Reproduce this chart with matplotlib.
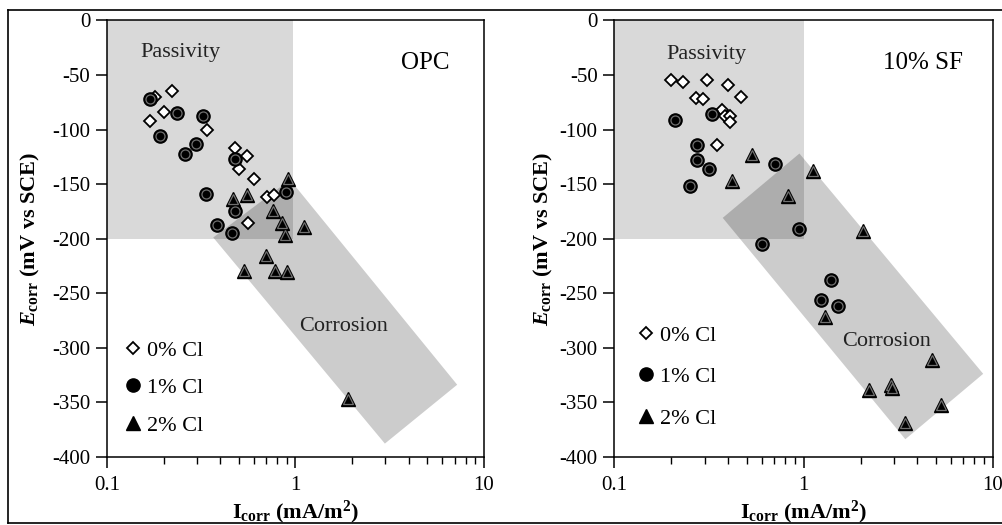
import numpy as np
import matplotlib.pyplot as plt
from matplotlib.patches import Polygon, Rectangle
from matplotlib.lines import Line2D
from matplotlib.ticker import FixedLocator, NullFormatter

plt.rcParams['font.family'] = ['Liberation Serif', 'DejaVu Serif']
plt.rcParams['mathtext.fontset'] = 'custom'
plt.rcParams['mathtext.rm'] = 'Liberation Serif'
plt.rcParams['mathtext.it'] = 'Liberation Serif:italic:bold'
plt.rcParams['mathtext.bf'] = 'Liberation Serif:bold'

# OPC panel: Icorr (mA/m2) and Ecorr (mV vs SCE)
opc_0_i = [0.18, 0.22, 0.20, 0.17, 0.34, 0.48, 0.55, 0.50, 0.60, 0.71, 0.77, 0.56]
opc_0_e = [-70, -65, -84, -92, -100, -117, -124, -136, -145, -162, -160, -186]
opc_1_i = [0.17, 0.235, 0.325, 0.19, 0.295, 0.26, 0.475, 0.335, 0.89, 0.475, 0.385, 0.46]
opc_1_e = [-72, -85, -88, -106, -113, -122, -127, -159, -157, -175, -188, -195]
opc_2_i = [0.91, 0.465, 0.555, 0.76, 0.85, 0.88, 1.11, 0.70, 0.53, 0.78, 0.90, 1.91]
opc_2_e = [-145, -164, -160, -175, -186, -197, -189, -216, -230, -230, -231, -347]

# 10% SF panel
sf_0_i = [0.20, 0.23, 0.31, 0.40, 0.465, 0.27, 0.295, 0.37, 0.385, 0.41, 0.41, 0.35]
sf_0_e = [-55, -56, -55, -59, -70, -71, -72, -82, -88, -88, -93, -114]
sf_1_i = [0.21, 0.33, 0.275, 0.275, 0.315, 0.25, 0.71, 0.95, 0.60, 1.40, 1.23, 1.52]
sf_1_e = [-91, -86, -114, -128, -136, -152, -132, -191, -205, -238, -256, -262]
sf_2_i = [0.535, 0.42, 0.83, 1.12, 2.07, 1.30, 4.8, 2.22, 2.9, 2.94, 5.33, 3.45]
sf_2_e = [-123, -147, -161, -138, -193, -272, -311, -339, -334, -337, -353, -369]

# shaded zones
opc_passive = [0.1, 0.97, -200, 0]
opc_band = [(0.935, -146), (0.366, -199), (2.98, -388), (7.21, -334)]
sf_passive = [0.1, 1.0, -200, 0]
sf_band = [(0.951, -122), (0.374, -181), (3.45, -384), (8.9, -324)]

legend_labels = ['0% Cl', '1% Cl', '2% Cl']
y_ticks = [0, -50, -100, -150, -200, -250, -300, -350, -400]


def draw_panel(ax, d0, d1, d2, passive, band, name, name_xy, corr_xy, pass_xy,
               leg_anchor, leg_spacing, ylab_x):
    x0, x1, y0, y1 = passive
    ax.add_patch(Rectangle((x0, y0), x1 - x0, y1 - y0, facecolor='#d9d9d9',
                           edgecolor='none', zorder=0))
    ax.add_patch(Polygon(band, closed=True, facecolor='black', alpha=0.2,
                         edgecolor='none', zorder=1))

    h0, = ax.plot(d0[0], d0[1], ls='none', marker='D', ms=6.5, mfc='white',
                  mec='black', mew=1.3, zorder=3)
    h1, = ax.plot(d1[0], d1[1], ls='none', marker='o', ms=9.5, mfc='black',
                  mec='black', zorder=3)
    ax.plot(d1[0], d1[1], ls='none', marker='o', ms=6.5, mfc='black',
            mec='#707070', mew=0.9, zorder=4)
    h2, = ax.plot(d2[0], d2[1], ls='none', marker='^', ms=10, mfc='black',
                  mec='black', zorder=3)
    ax.plot(d2[0], d2[1], ls='none', marker='^', ms=6.5, mfc='black',
            mec='#707070', mew=0.9, zorder=4)

    ax.set_xscale('log')
    ax.set_xlim(0.1, 10)
    ax.set_ylim(-400, 0)
    ax.set_yticks(y_ticks)
    ax.set_yticklabels([str(v) for v in y_ticks])
    ax.set_xticks([0.1, 1, 10])
    ax.set_xticklabels(['0.1', '1', '10'])
    minors = [m * 10.0 ** p for p in (-1, 0) for m in range(2, 10)]
    ax.xaxis.set_minor_locator(FixedLocator(minors))
    ax.xaxis.set_minor_formatter(NullFormatter())
    ax.tick_params(which='major', direction='out', length=8, width=1.1,
                   labelsize=15, pad=4)
    ax.tick_params(which='minor', direction='out', length=5, width=1.0)
    ax.tick_params(axis='x', pad=6)
    for s in ax.spines.values():
        s.set_linewidth(1.1)

    ax.set_xlabel(r'I$_{\mathbf{corr}}$ (mA/m$^{\mathbf{2}}$)', fontsize=16,
                  fontweight='bold')
    ax.xaxis.set_label_coords(0.5, -0.097)
    ax.set_ylabel(r'$E_{\mathbf{corr}}$ (mV vs SCE)', fontsize=16,
                  fontweight='bold')
    ax.yaxis.set_label_coords(ylab_x, 0.5)

    ax.text(pass_xy[0], pass_xy[1], 'Passivity', fontsize=16, ha='center',
            va='center', color='#222222')
    ax.text(corr_xy[0], corr_xy[1], 'Corrosion', fontsize=16, ha='center',
            va='center', color='#222222')
    ax.text(name_xy[0], name_xy[1], name, fontsize=18, ha='center',
            va='center')

    ax.legend([h0, h1, h2], legend_labels, loc='upper left',
              bbox_to_anchor=leg_anchor, frameon=False, fontsize=16,
              handlelength=0.8, handletextpad=0.2, labelspacing=leg_spacing,
              borderpad=0, borderaxespad=0, markerscale=1.0)


fig = plt.figure(figsize=(10.02, 5.25), dpi=100)
ax1 = fig.add_axes([0.1068, 0.1301, 0.3762, 0.8309])
ax2 = fig.add_axes([0.6131, 0.1301, 0.3777, 0.8309])

draw_panel(ax1, (opc_0_i, opc_0_e), (opc_1_i, opc_1_e), (opc_2_i, opc_2_e),
           opc_passive, opc_band, 'OPC', (4.87, -39), (1.80, -281),
           (0.244, -29), (0.046, 0.267), 0.76, -0.172)
draw_panel(ax2, (sf_0_i, sf_0_e), (sf_1_i, sf_1_e), (sf_2_i, sf_2_e),
           sf_passive, sf_band, '10% SF', (4.30, -39), (2.75, -294),
           (0.308, -31), (0.061, 0.302), 0.95, -0.157)

# outer frame of the figure
for xs, ys in [((0.008, 0.008), (0.004, 0.981)),
               ((0.008, 1.0), (0.981, 0.981)),
               ((0.008, 1.0), (0.004, 0.004))]:
    fig.add_artist(Line2D(xs, ys, color='black', lw=1.2))

fig.savefig('out.png', dpi=100)
